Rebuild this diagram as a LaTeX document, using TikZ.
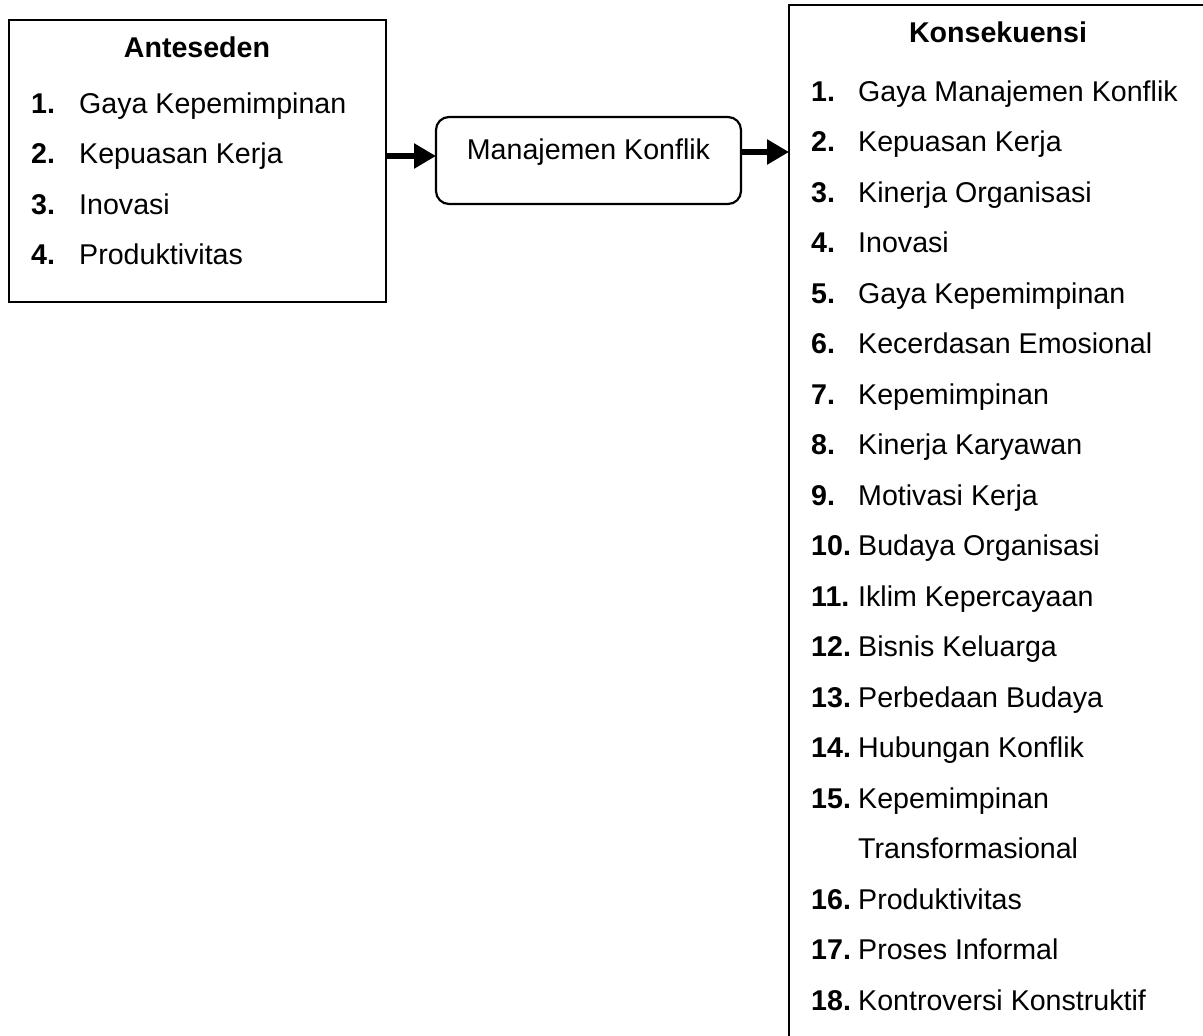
\documentclass[tikz,border=0pt]{standalone}
\usepackage{fontspec}
\setmainfont{Liberation Sans}
\usetikzlibrary{arrows.meta}
\begin{document}
\begin{tikzpicture}[x=1pt,y=-1pt,
  boxline/.style={draw=black,line width=2.4pt,inner sep=0pt,outer sep=0pt,anchor=north west},
  txt/.style={inner sep=0pt,anchor=base west,font=\fontsize{28.6}{34}\selectfont},
  num/.style={inner sep=0pt,anchor=base west,font=\fontsize{28.6}{34}\selectfont\bfseries},
  ttl/.style={inner sep=0pt,anchor=base,font=\fontsize{28.6}{34}\selectfont\bfseries},
  arr/.style={line width=6pt,-{Triangle[length=22pt,width=24pt]}}
]
\useasboundingbox (0,0) rectangle (1203,1036);
\clip (0,0) rectangle (1203,1036);
\fill[white] (0,0) rectangle (1203,1036);

% boxes
\node[boxline,minimum width=377pt,minimum height=282pt] (ante) at (9,20) {};
\node[boxline,minimum width=305pt,minimum height=87pt,rounded corners=13pt,line width=2.2pt] (mk) at (436,117) {};
\node[boxline,minimum width=460pt,minimum height=1060pt] (kons) at (789,5) {};

% titles
\node[ttl] (antet) at (197,57) {Anteseden};
\node[ttl] (konst) at (998,42.5) {Konsekuensi};
\node[inner sep=0pt,anchor=base,font=\fontsize{28.6}{34}\selectfont] (mkt) at (588.5,159) {Manajemen Konflik};

% left list
\foreach \i/\t in {1/Gaya Kepemimpinan,2/Kepuasan Kerja,3/Inovasi,4/Produktivitas}{
  \node[num] (ln\i) at (31,{113+(\i-1)*50.5}) {\i.};
  \node[txt] (lt\i) at (79,{113+(\i-1)*50.5}) {\t};
}

% right list
\foreach \i/\n/\t in {1/1/Gaya Manajemen Konflik,2/2/Kepuasan Kerja,3/3/Kinerja Organisasi,4/4/Inovasi,5/5/Gaya Kepemimpinan,6/6/Kecerdasan Emosional,7/7/Kepemimpinan,8/8/Kinerja Karyawan,9/9/Motivasi Kerja,10/10/Budaya Organisasi,11/11/Iklim Kepercayaan,12/12/Bisnis Keluarga,13/13/Perbedaan Budaya,14/14/Hubungan Konflik,15/15/Kepemimpinan,17/16/Produktivitas,18/17/Proses Informal,19/18/Kontroversi Konstruktif}{
  \node[num] (rn\n) at (811,{101+(\i-1)*50.5}) {\n.};
  \node[txt] (rt\n) at (858,{101+(\i-1)*50.5}) {\t};
}
\node[txt] (rt15b) at (858,{101+15*50.5}) {Transformasional};

% arrows
\draw[arr] (ante.east |- 0,156) -- (mk.west |- 0,156);
\draw[arr] (mk.east |- 0,152) -- (kons.west |- 0,152);
\end{tikzpicture}
\end{document}
